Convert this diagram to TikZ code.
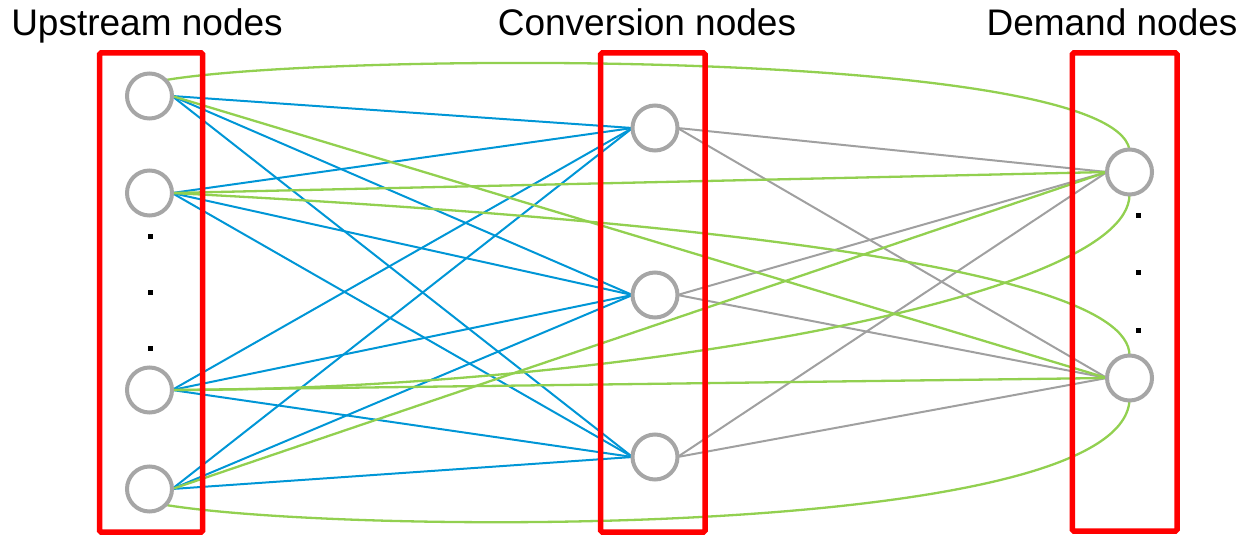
\documentclass[tikz,border=0pt]{standalone}
\usepackage{fontspec}
\setmainfont{Liberation Sans}
\definecolor{nodegray}{RGB}{166,166,166}
\definecolor{boxred}{RGB}{255,0,0}
\definecolor{feedblue}{RGB}{0,150,214}
\definecolor{directgreen}{RGB}{146,208,80}
\definecolor{supplygray}{RGB}{160,160,160}
\pgfdeclarelayer{edges}
\pgfsetlayers{edges,main}
\begin{document}
\begin{tikzpicture}[x=1pt,y=-1pt,
  vertex/.style={circle, draw=nodegray, line width=4pt, fill=white,
    minimum size=45pt, inner sep=0pt, outer sep=0pt},
  group/.style={draw=boxred, line width=5.5pt, rounded corners=1.5pt},
  title/.style={font=\fontsize{37}{44}\selectfont, anchor=base, inner sep=0pt},
  feed/.style={draw=feedblue, line width=2pt},
  supply/.style={draw=supplygray, line width=2pt},
  direct/.style={draw=directgreen, line width=2.3pt},
  ellipsisdot/.style={fill=black}]
  \useasboundingbox (0,0) rectangle (1241,535);

  % column titles
  \node[title] (tup)  at (147,36)  {Upstream nodes};
  \node[title] (tcon) at (647,36)  {Conversion nodes};
  \node[title] (tdem) at (1112,36) {Demand nodes};

  % nodes
  \node[vertex] (U1) at (149.5,96)  {};
  \node[vertex] (U2) at (149.5,193) {};
  \node[vertex] (U3) at (149.5,390) {};
  \node[vertex] (U4) at (149.5,489) {};
  \node[vertex] (C1) at (655,128) {};
  \node[vertex] (C2) at (655,295) {};
  \node[vertex] (C3) at (655,457) {};
  \node[vertex] (D1) at (1129.5,172) {};
  \node[vertex] (D2) at (1129.5,378) {};

  % group frames
  \draw[group] (99.5,53) rectangle (202.7,532);
  \draw[group] (600.7,53) rectangle (705,532);
  \draw[group] (1072.3,53) rectangle (1177,531);

  % ellipsis dots
  \foreach \y in {236,292,348}
    \fill[ellipsisdot] (147.5,\y-2.5) rectangle (152.5,\y+2.5);
  \foreach \y in {215,272,330}
    \fill[ellipsisdot] (1135.5,\y-2.5) rectangle (1140.5,\y+2.5);

  \begin{pgfonlayer}{edges}
    % upstream -> conversion
    \foreach \u in {U1,U2,U3,U4}
      \foreach \c in {C1,C2,C3}
        \draw[feed] (\u.east) -- (\c.west);
    % conversion -> demand
    \foreach \c in {C1,C2,C3}
      \foreach \d in {D1,D2}
        \draw[supply] (\c.east) -- (\d.west);
    % upstream -> demand
    \draw[direct] (U1.east) -- (D2.west);
    \draw[direct] (U2.east) -- (D1.west);
    \draw[direct] (U3.east) -- (D2.west);
    \draw[direct] (U4.east) -- (D1.west);
    \draw[direct] (U2.east) .. controls (600,215) and (1129.5,260) .. (D2.north);
    \draw[direct] (U3.east) .. controls (600,390) and (1129.5,300) .. (D1.south);
    \draw[direct] (U1.45) .. controls (330,52) and (1110,48) .. (D1.north);
    \draw[direct] (U4.-45) .. controls (350,535) and (1120,540) .. (D2.south);
  \end{pgfonlayer}
\end{tikzpicture}
\end{document}
